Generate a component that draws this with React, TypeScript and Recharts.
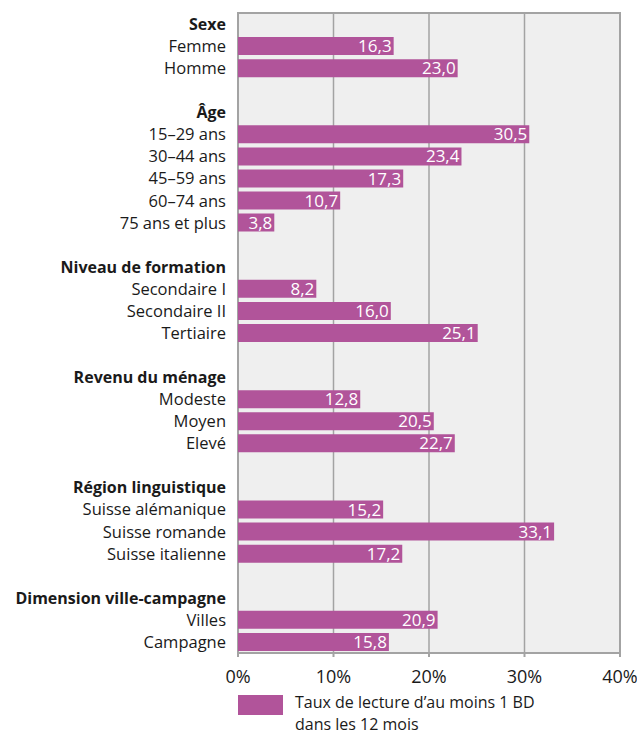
import React from 'react';
import {
  BarChart,
  Bar,
  XAxis,
  YAxis,
  CartesianGrid,
  ReferenceArea,
  LabelList
} from 'recharts';

// groups of the breakdown, in display order
const groupTitles = [
  'Sexe',
  'Âge',
  'Niveau de formation',
  'Revenu du ménage',
  'Région linguistique',
  'Dimension ville-campagne'
];

const sexeLabels = ['Femme', 'Homme'];
const sexeValues = [16.3, 23.0];

const ageLabels = ['15–29 ans', '30–44 ans', '45–59 ans', '60–74 ans', '75 ans et plus'];
const ageValues = [30.5, 23.4, 17.3, 10.7, 3.8];

const formationLabels = ['Secondaire I', 'Secondaire II', 'Tertiaire'];
const formationValues = [8.2, 16.0, 25.1];

const revenuLabels = ['Modeste', 'Moyen', 'Elevé'];
const revenuValues = [12.8, 20.5, 22.7];

const regionLabels = ['Suisse alémanique', 'Suisse romande', 'Suisse italienne'];
const regionValues = [15.2, 33.1, 17.2];

const villeLabels = ['Villes', 'Campagne'];
const villeValues = [20.9, 15.8];

const xTicks = [0, 10, 20, 30, 40];
const legendLabel = ['Taux de lecture d’au moins 1 BD', 'dans les 12 mois'];

const BAR_COLOR = '#b1549a';
const GRID_COLOR = '#a3a3a3';
const TEXT_COLOR = '#1a1a1a';
const FONT = '"Open Sans", "Noto Sans", sans-serif';

interface Row {
  key: string;
  label: string;
  header: boolean;
  value: number | null;
}

const groups: Array<[string[], number[]]> = [
  [sexeLabels, sexeValues],
  [ageLabels, ageValues],
  [formationLabels, formationValues],
  [revenuLabels, revenuValues],
  [regionLabels, regionValues],
  [villeLabels, villeValues]
];

// flatten into one row per line: title row, items, then a spacer row
const rows: Row[] = [];
groups.forEach(([labels, values], g) => {
  if (g > 0) rows.push({ key: `gap-${g}`, label: '', header: false, value: null });
  rows.push({ key: `title-${g}`, label: groupTitles[g], header: true, value: null });
  labels.forEach((label, i) => {
    rows.push({ key: `item-${g}-${i}`, label, header: false, value: values[i] });
  });
});

const CategoryTick = (props: any) => {
  const { x, y, payload } = props;
  const row = rows.find((r) => r.key === payload.value);
  if (!row || !row.label) return null;
  return (
    <text
      x={x}
      y={y}
      dy="0.36em"
      textAnchor="end"
      fontFamily={FONT}
      fontSize={row.header ? 16 : 16.5}
      fontWeight={row.header ? 700 : 400}
      fill={TEXT_COLOR}
    >
      {row.label}
    </text>
  );
};

const formatValue = (v: any) =>
  v == null ? '' : Number(v).toFixed(1).replace('.', ',');

export default function App() {
  return (
    <div style={{ position: 'absolute', left: 0, top: 0, width: 637, height: 735, background: '#fff' }}>
      <BarChart
        width={637}
        height={735}
        data={rows}
        layout="vertical"
        margin={{ top: 13, right: 17, left: 0, bottom: 0 }}
        barCategoryGap={2}
      >
        <CartesianGrid
          horizontal={false}
          vertical={true}
          fill="#efefef"
          stroke={GRID_COLOR}
          strokeWidth={1.5}
        />
        <ReferenceArea
          x1={0}
          x2={40}
          fill="none"
          stroke={GRID_COLOR}
          strokeWidth={2}
          ifOverflow="visible"
        />
        <XAxis
          type="number"
          domain={[0, 40]}
          ticks={xTicks}
          tickFormatter={(v) => `${v}%`}
          height={82}
          tickSize={4}
          tickMargin={13}
          axisLine={{ stroke: GRID_COLOR, strokeWidth: 2 }}
          tickLine={{ stroke: GRID_COLOR, strokeWidth: 2 }}
          tick={{ fill: TEXT_COLOR, fontSize: 18, fontFamily: FONT }}
        />
        <YAxis
          type="category"
          dataKey="key"
          width={238}
          interval={0}
          axisLine={false}
          tickLine={false}
          tickSize={0}
          tickMargin={12}
          tick={<CategoryTick />}
        />
        <Bar dataKey="value" fill={BAR_COLOR} barSize={18} isAnimationActive={false}>
          <LabelList
            dataKey="value"
            position="insideRight"
            offset={2}
            formatter={formatValue}
            fill="#ffffff"
            fontSize={17}
            fontFamily={FONT}
          />
        </Bar>
      </BarChart>
      <div style={{ position: 'absolute', left: 238, top: 695, width: 45, height: 20, background: BAR_COLOR }} />
      <div
        style={{
          position: 'absolute',
          left: 295,
          top: 691,
          fontFamily: FONT,
          fontSize: 16,
          lineHeight: '22px',
          color: TEXT_COLOR,
          whiteSpace: 'nowrap'
        }}
      >
        {legendLabel.map((line) => (
          <div key={line}>{line}</div>
        ))}
      </div>
    </div>
  );
}
